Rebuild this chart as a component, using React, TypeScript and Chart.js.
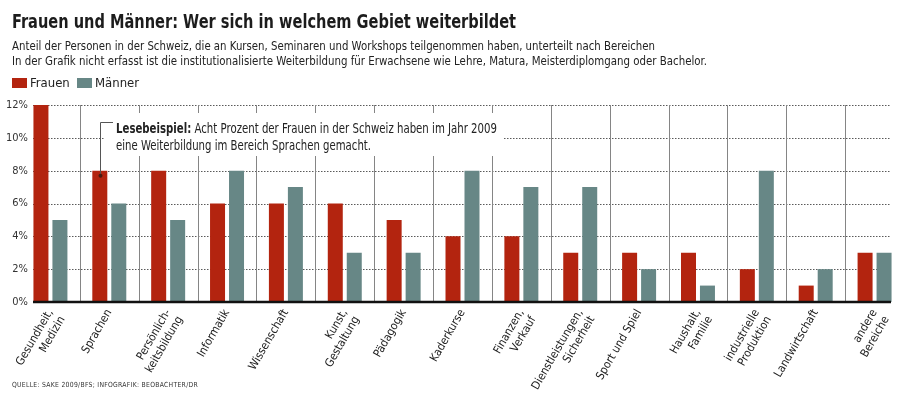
import React, { useEffect, useLayoutEffect, useRef } from "react";
import { Chart, registerables } from "chart.js";

Chart.register(...registerables);

const FONT = "'Liberation Sans Narrow', 'DejaVu Sans Condensed', 'Roboto Condensed', Roboto, sans-serif";

const categories: (string | string[])[] = [
  ["Gesundheit,", "Medizin"],
  "Sprachen",
  ["Persönlich-", "keitsbildung"],
  "Informatik",
  "Wissenschaft",
  ["Kunst,", "Gestaltung"],
  "Pädagogik",
  "Kaderkurse",
  ["Finanzen,", "Verkauf"],
  ["Dienstleistungen,", "Sicherheit"],
  "Sport und Spiel",
  ["Haushalt,", "Familie"],
  ["industrielle", "Produktion"],
  "Landwirtschaft",
  ["andere", "Bereiche"],
];
const frauen = [12, 8, 8, 6, 6, 6, 5, 4, 4, 3, 3, 3, 2, 1, 3];
const maenner = [5, 6, 5, 8, 7, 3, 3, 8, 7, 7, 2, 1, 8, 2, 3];
const yTicks = [0, 2, 4, 6, 8, 10, 12];
const yTickLabels = ["0%", "2%", "4%", "6%", "8%", "10%", "12%"];
const seriesNames = ["Frauen", "Männer"];
const seriesColors = ["#b3240f", "#678786"];

const title = "Frauen und Männer: Wer sich in welchem Gebiet weiterbildet";
const subtitle1 =
  "Anteil der Personen in der Schweiz, die an Kursen, Seminaren und Workshops teilgenommen haben, unterteilt nach Bereichen";
const subtitle2 =
  "In der Grafik nicht erfasst ist die institutionalisierte Weiterbildung für Erwachsene wie Lehre, Matura, Meisterdiplomgang oder Bachelor.";
const noteBold = "Lesebeispiel:";
const note1 = " Acht Prozent der Frauen in der Schweiz haben im Jahr 2009";
const note2 = "eine Weiterbildung im Bereich Sprachen gemacht.";
const source = "QUELLE: SAKE 2009/BFS; INFOGRAFIK: BEOBACHTER/DR";

function Fit({ w, style, children }: { w: number; style: React.CSSProperties; children: React.ReactNode }) {
  const ref = useRef<HTMLDivElement>(null);
  useLayoutEffect(() => {
    const el = ref.current;
    if (!el) return;
    el.style.transform = "none";
    const nat = el.getBoundingClientRect().width;
    if (nat > 0) el.style.transform = `scaleX(${w / nat})`;
  }, [w]);
  return (
    <div
      ref={ref}
      style={{ position: "absolute", whiteSpace: "nowrap", transformOrigin: "0 0", fontFamily: FONT, ...style }}
    >
      {children}
    </div>
  );
}

const decor = {
  id: "decor",
  beforeDatasetsDraw(chart: any) {
    const { ctx, scales } = chart;
    const x = scales.x;
    const y = scales.y;
    const left = 33;
    const right = 891;
    ctx.save();
    ctx.strokeStyle = "#5a5a5a";
    ctx.lineWidth = 1;
    ctx.setLineDash([1.5, 1.5]);
    yTicks.forEach((v) => {
      if (v === 0) return;
      const py = Math.round(y.getPixelForValue(v)) + 0.5;
      ctx.beginPath();
      ctx.moveTo(left, py);
      ctx.lineTo(right, py);
      ctx.stroke();
    });
    ctx.setLineDash([]);
    ctx.strokeStyle = "#858585";
    for (let i = 0; i < categories.length - 1; i++) {
      const px = Math.round((x.getPixelForValue(i) + x.getPixelForValue(i + 1)) / 2) + 0.5;
      ctx.beginPath();
      ctx.moveTo(px, y.getPixelForValue(yTicks[yTicks.length - 1]));
      ctx.lineTo(px, y.getPixelForValue(0));
      ctx.stroke();
    }
    ctx.fillStyle = "#ffffff";
    ctx.fillRect(104, 113, 400, 43);
    ctx.fillStyle = "#333";
    ctx.font = `11px ${FONT}`;
    ctx.textAlign = "right";
    ctx.textBaseline = "middle";
    yTicks.forEach((v, i) => {
      ctx.fillText(yTickLabels[i], 28, y.getPixelForValue(v));
    });
    ctx.restore();
  },
  afterDatasetsDraw(chart: any) {
    const { ctx, scales } = chart;
    const y = scales.y;
    const py = y.getPixelForValue(0);
    ctx.save();
    ctx.strokeStyle = "#111";
    ctx.lineWidth = 2.5;
    ctx.beginPath();
    ctx.moveTo(33, py);
    ctx.lineTo(891, py);
    ctx.stroke();
    const bar = chart.getDatasetMeta(0).data[1];
    const bx = Math.round(bar.x) + 0.5;
    const dotY = bar.y + 5;
    ctx.strokeStyle = "#555";
    ctx.lineWidth = 1;
    ctx.beginPath();
    ctx.moveTo(113, 122.5);
    ctx.lineTo(bx, 122.5);
    ctx.lineTo(bx, dotY);
    ctx.stroke();
    ctx.fillStyle = "#4a1a10";
    ctx.beginPath();
    ctx.arc(bx, dotY, 2, 0, Math.PI * 2);
    ctx.fill();
    ctx.restore();
  },
};

export default function App() {
  const canvasRef = useRef<HTMLCanvasElement>(null);

  useEffect(() => {
    const canvas = canvasRef.current;
    if (!canvas) return;
    const chart = new Chart(canvas, {
      type: "bar",
      data: {
        labels: categories as any,
        datasets: [
          { label: seriesNames[0], data: frauen, backgroundColor: seriesColors[0], barPercentage: 0.79, categoryPercentage: 0.645 },
          { label: seriesNames[1], data: maenner, backgroundColor: seriesColors[1], barPercentage: 0.79, categoryPercentage: 0.645 },
        ],
      },
      plugins: [decor],
      options: {
        animation: false,
        responsive: false,
        layout: { padding: { top: 105, left: 0, right: 0, bottom: 0 } },
        plugins: { legend: { display: false }, tooltip: { enabled: false }, title: { display: false } },
        scales: {
          x: {
            grid: { display: false },
            border: { display: false },
            ticks: {
              autoSkip: false,
              maxRotation: 60,
              minRotation: 60,
              padding: -3,
              color: "#222",
              font: { family: FONT, size: 11.5, lineHeight: 1.2 },
            },
            afterFit: (s: any) => {
              s.height = 92;
            },
          },
          y: {
            min: 0,
            max: 12,
            afterBuildTicks: (s: any) => {
              s.ticks = yTicks.map((v) => ({ value: v }));
            },
            grid: { display: false, drawTicks: false },
            border: { display: false },
            ticks: { display: false },
            afterFit: (s: any) => {
              s.width = 21;
            },
          },
        },
      } as any,
    });
    return () => chart.destroy();
  }, []);

  return (
    <div style={{ position: "fixed", left: 0, top: 0, width: 900, height: 394, overflow: "hidden", background: "#fff" }}>
      <canvas ref={canvasRef} width={904} height={394} style={{ position: "absolute", left: 0, top: 0 }} />
      <Fit w={504} style={{ left: 12, top: 9, fontSize: 20, lineHeight: "24px", fontWeight: 700, color: "#1c1c1c" }}>
        {title}
      </Fit>
      <Fit w={643} style={{ left: 12, top: 37.5, fontSize: 13, lineHeight: "16px", color: "#222" }}>
        {subtitle1}
      </Fit>
      <Fit w={695} style={{ left: 12, top: 52.5, fontSize: 13, lineHeight: "16px", color: "#222" }}>
        {subtitle2}
      </Fit>
      <div style={{ position: "absolute", left: 12, top: 78, width: 15, height: 9.5, background: seriesColors[0] }} />
      <div style={{ position: "absolute", left: 30, top: 74.5, fontFamily: FONT, fontSize: 13, lineHeight: "16px", color: "#222" }}>
        {seriesNames[0]}
      </div>
      <div style={{ position: "absolute", left: 77, top: 78, width: 15, height: 9.5, background: seriesColors[1] }} />
      <div style={{ position: "absolute", left: 95, top: 74.5, fontFamily: FONT, fontSize: 13, lineHeight: "16px", color: "#222" }}>
        {seriesNames[1]}
      </div>
      <Fit w={381} style={{ left: 116, top: 119.5, fontSize: 13.5, lineHeight: "17px", color: "#222" }}>
        <b>{noteBold}</b>
        {note1}
      </Fit>
      <Fit w={255} style={{ left: 116, top: 136.5, fontSize: 13.5, lineHeight: "17px", color: "#222" }}>
        {note2}
      </Fit>
      <Fit w={186} style={{ left: 12, top: 380, fontSize: 7, lineHeight: "10px", color: "#333", letterSpacing: "0.3px" }}>
        {source}
      </Fit>
    </div>
  );
}
